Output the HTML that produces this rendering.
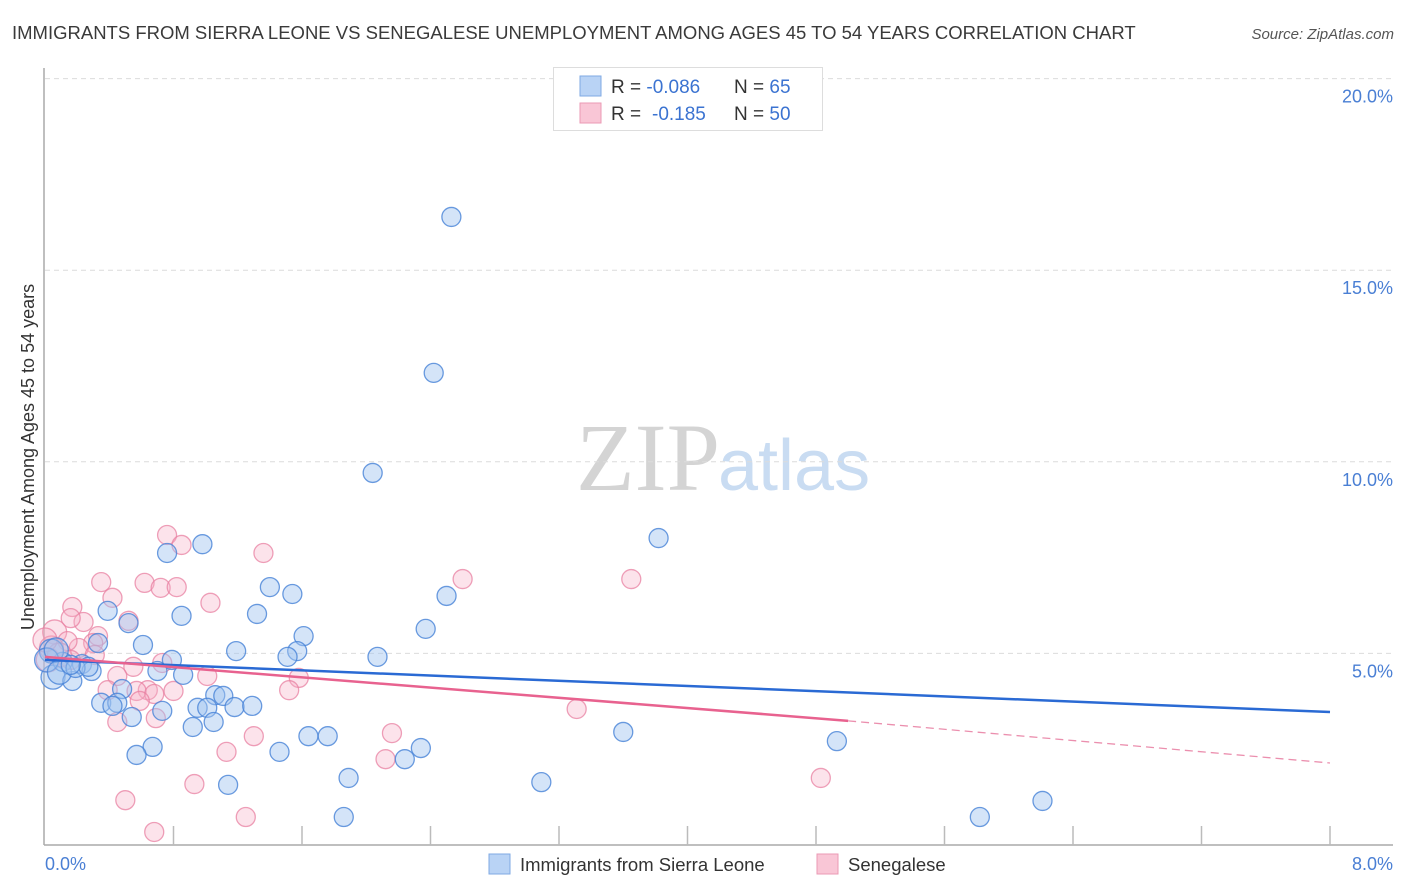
<!DOCTYPE html>
<html><head><meta charset="utf-8">
<style>
body{margin:0;background:#fff;font-family:"Liberation Sans",sans-serif;}
svg{display:block}
</style></head>
<body>
<svg id="chart" width="1406" height="892" xmlns="http://www.w3.org/2000/svg">
<text x="12" y="39" font-size="18.5" fill="#3a3a3a">IMMIGRANTS FROM SIERRA LEONE VS SENEGALESE UNEMPLOYMENT AMONG AGES 45 TO 54 YEARS CORRELATION CHART</text>
<text x="1394" y="39" font-size="15" font-style="italic" fill="#555" text-anchor="end">Source: ZipAtlas.com</text>
<text x="720" y="490" font-size="96" font-family="Liberation Serif,serif" fill="#d4d4d4" text-anchor="end">ZIP</text>
<text x="718" y="490" font-size="72" fill="#c9dcf2">atlas</text>
<g id="grid"></g>
<g id="axes"></g>
<g id="pinkPts"></g>
<g id="bluePts"></g>
<g id="trends"></g>
<text transform="translate(34,457) rotate(-90)" font-size="18" fill="#333" text-anchor="middle">Unemployment Among Ages 45 to 54 years</text>
<text x="45" y="870" font-size="18" fill="#4a7fd4">0.0%</text>
<text x="1393" y="870" font-size="18" fill="#4a7fd4" text-anchor="end">8.0%</text>
<g>
<rect x="553.5" y="67.5" width="269" height="63" fill="#fff" stroke="#ddd"/>
<rect x="580" y="76" width="21" height="20" fill="#b9d3f5" stroke="#7fa9e3"/>
<text x="611" y="93" font-size="19" fill="#333">R = <tspan fill="#3b73d1">-0.086</tspan><tspan x="734">N = </tspan><tspan fill="#3b73d1">65</tspan></text>
<rect x="580" y="103" width="21" height="20" fill="#f9c6d6" stroke="#eb9ab4"/>
<text x="611" y="120" font-size="19" fill="#333">R = <tspan x="652" fill="#3b73d1">-0.185</tspan><tspan x="734">N = </tspan><tspan fill="#3b73d1">50</tspan></text>
</g>
<g>
<rect x="489" y="854" width="21" height="20" fill="#b9d3f5" stroke="#7fa9e3"/>
<text x="520" y="871" font-size="18.5" fill="#333">Immigrants from Sierra Leone</text>
<rect x="817" y="854" width="21" height="20" fill="#f9c6d6" stroke="#eb9ab4"/>
<text x="848" y="871" font-size="18.5" fill="#333">Senegalese</text>
</g>
</svg>
<script>
const blueX=[2.53,2.42,2.04,3.82,0.98,0.76,1.40,1.54,2.50,0.39,0.85,1.32,0.52,2.37,1.61,0.61,0.33,1.19,1.57,2.07,1.51,0.79,0.23,0.29,0.70,0.05,0.17,0.86,0.11,1.06,1.11,0.48,0.35,0.45,0.95,1.01,1.18,1.29,0.73,0.54,1.05,0.92,3.60,1.64,1.76,4.93,0.67,2.34,1.46,0.57,2.24,1.89,3.09,1.14,6.21,1.86,5.82,0.04,0.01,0.07,0.09,0.19,0.27,0.16,0.42];
const blueY=[16.39,12.32,9.71,8.01,7.85,7.62,6.73,6.55,6.50,6.11,5.98,6.03,5.79,5.64,5.45,5.22,5.27,5.06,5.06,4.91,4.91,4.83,4.72,4.54,4.54,4.38,4.28,4.44,4.78,3.91,3.89,4.07,3.71,3.71,3.58,3.58,3.60,3.63,3.50,3.34,3.21,3.08,2.95,2.84,2.84,2.71,2.56,2.53,2.43,2.35,2.24,1.75,1.64,1.57,1.15,0.73,0.73,5.06,4.83,5.09,4.51,4.62,4.65,4.70,3.63];
const pinkX=[0.76,0.85,1.36,0.35,0.62,0.72,0.82,3.65,2.60,1.03,0.42,0.17,0.24,0.16,0.52,0.06,0.33,0.30,0.21,0.14,0.31,0.73,0.55,0.45,1.01,1.58,0.39,0.64,0.57,0.80,1.52,0.68,0.59,0.45,0.69,2.16,3.31,1.30,1.13,2.12,4.83,0.93,0.50,1.25,0.68,0.04,0.02,0.09,0.00,0.16];
const pinkY=[8.09,7.83,7.62,6.86,6.84,6.71,6.73,6.94,6.94,6.32,6.45,6.21,5.82,5.92,5.85,5.56,5.45,5.27,5.14,5.32,4.96,4.75,4.65,4.41,4.41,4.36,4.04,4.04,4.02,4.02,4.04,3.94,3.76,3.21,3.31,2.92,3.55,2.84,2.43,2.24,1.75,1.59,1.17,0.73,0.34,5.14,4.83,4.96,5.35,4.83];
const yTicks=[5,10,15,20];
const yTickLabels=["5.0%","10.0%","15.0%","20.0%"];
const xTicks=[0.8,1.6,2.4,3.2,4.0,4.8,5.6,6.4,7.2,8.0];
const blueTrend=[[0,4.83],[8,3.47]];
const pinkTrendSolid=[[0,4.91],[5.0,3.24]];
const pinkTrendDash=[[5.0,3.24],[8,2.14]];

const NS="http://www.w3.org/2000/svg";
const sx=v=>45+v/8*1285;
const sy=v=>845-v/5*191.6;
function mk(tag,parent,attrs){const e=document.createElementNS(NS,tag);for(const k in attrs)e.setAttribute(k,attrs[k]);document.getElementById(parent).appendChild(e);return e;}

yTicks.forEach((t,i)=>{
  const l=mk('line','grid',{x1:45,x2:1393,y1:sy(t),y2:sy(t),stroke:'#dcdcdc','stroke-dasharray':'5,4','stroke-width':1});
  
  
  const tx=mk('text','grid',{x:1393,y:sy(t)+24,'font-size':18,fill:'#4a7fd4','text-anchor':'end'});
  tx.textContent=yTickLabels[i];
  
  
});
let a=mk('line','axes',{x1:44,x2:44,y1:68,y2:845,stroke:'#aaa','stroke-width':1.5});


a=mk('line','axes',{x1:44,x2:1393,y1:845,y2:845,stroke:'#aaa','stroke-width':1.5});


xTicks.forEach(t=>{
  const l=mk('line','axes',{x1:sx(t),x2:sx(t),y1:826,y2:845,stroke:'#bbb','stroke-width':1.5});
  
  
});
function pts(xs,ys,g,fill,stroke,name){
  xs.forEach((x,i)=>{
    const r=x<0.1?12:9.5;
    const c=mk('circle',g,{cx:sx(x),cy:sy(ys[i]),r:r,fill:fill,stroke:stroke,'stroke-width':1.3});
    
    
  });
}
pts(pinkX,pinkY,'pinkPts','rgba(246,175,198,0.35)','rgba(232,128,162,0.75)','senegalese-point');
pts(blueX,blueY,'bluePts','rgba(160,196,240,0.45)','rgba(70,130,215,0.8)','sierra-leone-point');
let t=mk('line','trends',{x1:sx(blueTrend[0][0]),y1:sy(blueTrend[0][1]),x2:sx(blueTrend[1][0]),y2:sy(blueTrend[1][1]),stroke:'#2a6ad4','stroke-width':2.5});


t=mk('line','trends',{x1:sx(pinkTrendSolid[0][0]),y1:sy(pinkTrendSolid[0][1]),x2:sx(pinkTrendSolid[1][0]),y2:sy(pinkTrendSolid[1][1]),stroke:'#e8628f','stroke-width':2.5});


t=mk('line','trends',{x1:sx(pinkTrendDash[0][0]),y1:sy(pinkTrendDash[0][1]),x2:sx(pinkTrendDash[1][0]),y2:sy(pinkTrendDash[1][1]),stroke:'#eb8fae','stroke-width':1.3,'stroke-dasharray':'8,5'});


</script>
</body></html>
